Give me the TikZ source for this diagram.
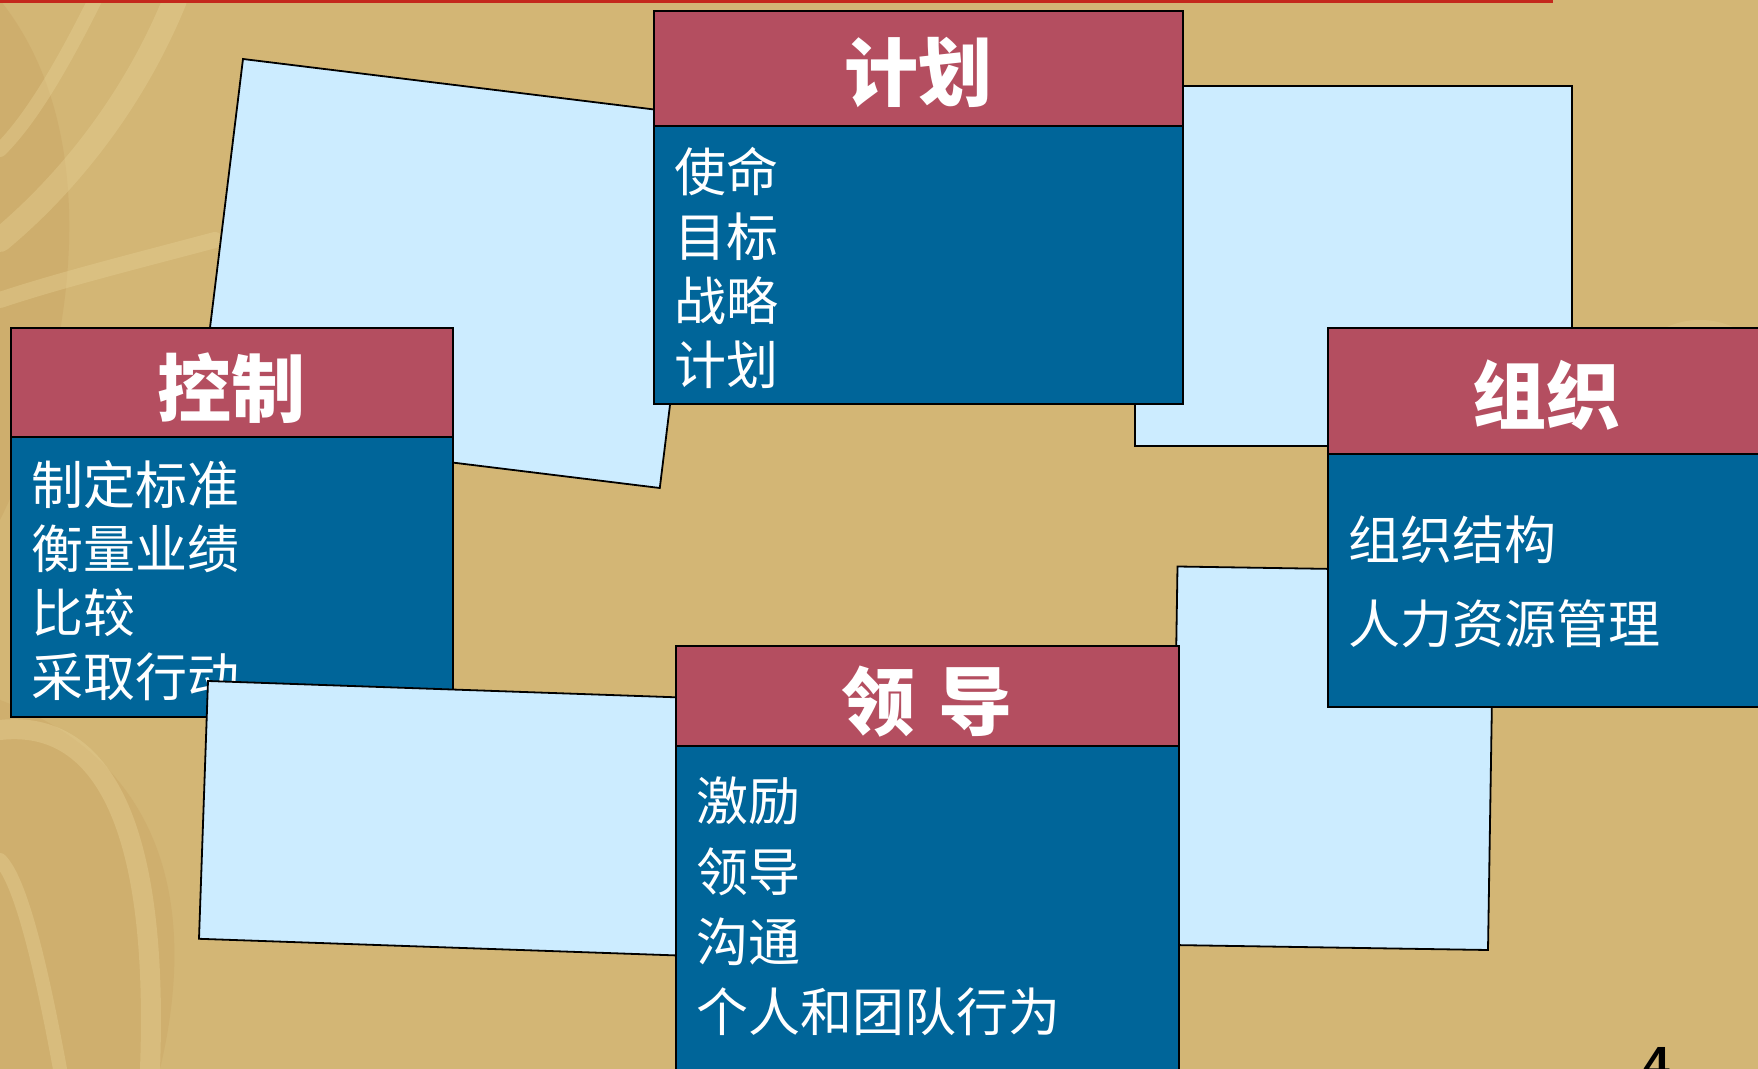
\documentclass[tikz,border=0pt]{standalone}
\usepackage{fontspec}
\newfontfamily\cjk{Noto Sans CJK SC}
\newfontfamily\numfont{Liberation Sans}
\definecolor{hdr}{RGB}{180,78,96}
\definecolor{bodyblue}{RGB}{0,101,153}
\definecolor{paper}{RGB}{204,236,255}
\definecolor{bg}{RGB}{211,182,117}
\definecolor{bgdark}{RGB}{200,162,98}
\definecolor{bglight}{RGB}{230,208,148}
\definecolor{topred}{RGB}{196,40,28}
\begin{document}
\begin{tikzpicture}[x=0.5pt,y=-0.5pt,
  hdrbox/.style={fill=hdr,draw=black,line width=1pt},
  bodybox/.style={fill=bodyblue,draw=black,line width=1pt},
  card/.style={fill=paper,draw=black,line width=0.9pt,line join=miter},
  swirl/.style={draw=bglight,line cap=round,opacity=0.4},
  ttl/.style={text=white,font=\cjk\bfseries\fontsize{37pt}{37pt}\selectfont,inner sep=0pt},
  item/.style={text=white,font=\cjk\fontsize{26pt}{26pt}\selectfont,inner sep=0pt,anchor=west}]
% background
\useasboundingbox (0,0) rectangle (1758,1069);
\fill[bg] (0,0) rectangle (1758,1069);
\fill[bgdark,opacity=0.4] (0,0) .. controls (120,150) and (60,400) .. (0,520) -- cycle;
\fill[bgdark,opacity=0.35] (0,700) .. controls (160,760) and (200,900) .. (160,1069) -- (0,1069) -- cycle;
\draw[swirl,line width=12] (175,0) .. controls (130,110) and (60,190) .. (0,240);
\draw[swirl,line width=7] (95,0) .. controls (60,70) and (30,120) .. (0,150);
\draw[swirl,line width=8] (0,300) .. controls (60,280) and (140,260) .. (215,240);
\draw[swirl,line width=10] (0,730) .. controls (90,720) and (160,800) .. (150,1069);
\draw[swirl,line width=7] (60,1069) .. controls (40,960) and (20,880) .. (0,860);
\fill[bglight,opacity=0.3] (1700,380) ellipse (70 and 60);
\fill[topred] (0,0) rectangle (1553,3);

% background cards
\draw[card] (243,59) -- (705.5,115.8) -- (659.8,488) -- (197.3,431.2) -- cycle;
\draw[card] (1135,86) rectangle (1572,446);
\draw[card] (1177.5,566.5) -- (1494,571.5) -- (1488,950) -- (1171.6,945) -- cycle;

% plan box
\draw[hdrbox] (654,11) rectangle (1183,126);
\draw[bodybox] (654,126) rectangle (1183,404);
\node[ttl] (planT) at (918,73) {计划};
\node[item] (plan1) at (674,172) {使命};
\node[item] (plan2) at (674,237) {目标};
\node[item] (plan3) at (674,301) {战略};
\node[item] (plan4) at (674,365) {计划};

% organise box
\draw[hdrbox] (1328,328) rectangle (1800,454);
\draw[bodybox] (1328,454) rectangle (1800,707);
\node[ttl] (orgT) at (1546,395) {组织};
\node[item] (org1) at (1348,540) {组织结构};
\node[item] (org2) at (1348,624) {人力资源管理};

% control box
\draw[hdrbox] (11,328) rectangle (453,437);
\draw[bodybox] (11,437) rectangle (453,717);
\node[ttl] (ctlT) at (231,388) {控制};
\node[item] (ctl1) at (31,485) {制定标准};
\node[item] (ctl2) at (31,549) {衡量业绩};
\node[item] (ctl3) at (31,613) {比较};
\node[item] (ctl4) at (31,677) {采取行动};

% lower-left card (over control box)
\draw[card] (208,681) -- (767.7,700.5) -- (758.7,958.3) -- (199,938.8) -- cycle;

% lead box
\draw[hdrbox] (676,646) rectangle (1179,746);
\draw[bodybox] (676,746) rectangle (1179,1100);
\node[ttl] (leadT) at (927,702) {领\hspace{0.3em}导};
\node[item] (lead1) at (696,801) {激励};
\node[item] (lead2) at (696,872) {领导};
\node[item] (lead3) at (696,942) {沟通};
\node[item] (lead4) at (696,1012) {个人和团队行为};

% page number (cut off at the bottom edge, as in the reference)
\node[anchor=north east,inner sep=0pt,font=\numfont\bfseries\fontsize{24pt}{24pt}\selectfont] (pgno) at (1671,1047) {4};
\end{tikzpicture}
\end{document}
